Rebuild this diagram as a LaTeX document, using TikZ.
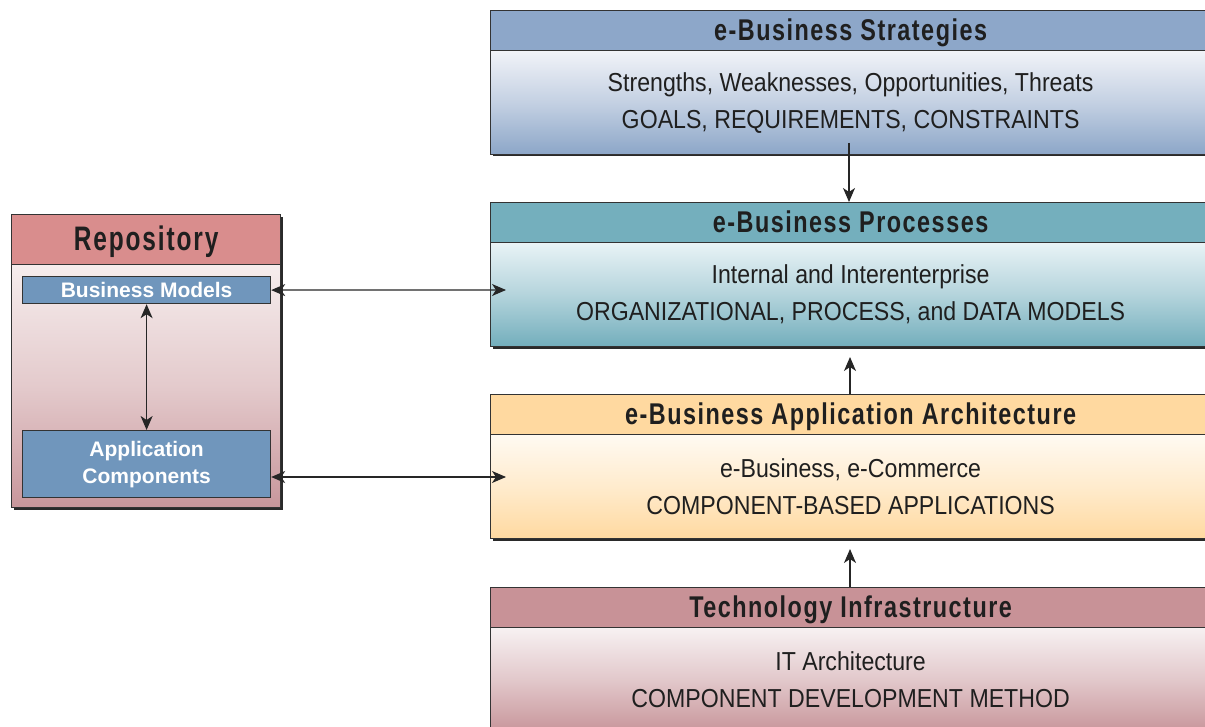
\documentclass[tikz,border=0pt]{standalone}
\usepackage{fontspec}
\setmainfont{Liberation Sans}
\newfontfamily\narrowfont{Liberation Sans}[FakeStretch=0.89]
\newfontfamily\narrowbold{Liberation Sans Bold}[FakeStretch=0.78,LetterSpace=5]
\newfontfamily\repofont{Liberation Sans Bold}[FakeStretch=0.72,LetterSpace=5.5]
\usetikzlibrary{arrows.meta,calc}
\definecolor{edge}{HTML}{333333}
\definecolor{shad}{HTML}{2A2A2A}
\definecolor{stratH}{HTML}{8DA7C9}
\definecolor{stratT}{HTML}{F1F3F8}
\definecolor{stratB}{HTML}{8CA6C8}
\definecolor{procH}{HTML}{74AFBD}
\definecolor{procT}{HTML}{E9F3F6}
\definecolor{procB}{HTML}{73AEBC}
\definecolor{archH}{HTML}{FFD9A0}
\definecolor{archT}{HTML}{FFFAF2}
\definecolor{archB}{HTML}{FFD9A0}
\definecolor{techH}{HTML}{C89297}
\definecolor{techT}{HTML}{F7F1F2}
\definecolor{techB}{HTML}{C8969B}
\definecolor{repoH}{HTML}{D98D8D}
\definecolor{repoT}{HTML}{F6EDED}
\definecolor{repoB}{HTML}{C8969B}
\definecolor{inner}{HTML}{7096BC}
\tikzset{
  hdr/.style={draw=edge, line width=1.2pt, anchor=north west, inner sep=0pt,
    minimum width=720pt, minimum height=40pt},
  hdrtext/.style={anchor=center, inner sep=0pt, text=black!88,
    text height=21.5pt, text depth=6.5pt, font=\narrowbold\fontsize{30}{34}\selectfont},
  body/.style={draw=edge, line width=1.2pt, anchor=north west, inner sep=0pt,
    minimum width=720pt, minimum height=104pt, align=center, text=black!88,
    font=\narrowfont\fontsize{26}{37}\selectfont},
  shadowbox/.style={fill=shad},
  innerbox/.style={draw=edge, line width=1.2pt, fill=inner, text=white, inner sep=0pt,
    align=center, font=\bfseries\fontsize{21}{27}\selectfont},
  conn/.style={line width=1.2pt, draw=black!85},
  tip/.style={-{Stealth[length=14pt,width=12pt,inset=4pt]}},
  tips/.style={{Stealth[length=14pt,width=12pt,inset=4pt]}-{Stealth[length=14pt,width=12pt,inset=4pt]}}
}
\begin{document}
\begin{tikzpicture}[x=1pt,y=-1pt]
\useasboundingbox (0,0) rectangle (1205,727);
\clip (0,0) rectangle (1205,727);
% shadows
\fill[shadowbox] (493,13) rectangle (1213,156);
\fill[shadowbox] (493,205) rectangle (1213,349);
\fill[shadowbox] (493,397) rectangle (1213,541);
\fill[shadowbox] (493,590) rectangle (1213,740);
\fill[shadowbox] (14,217) rectangle (283,510);
% strategies
\node[body, top color=stratT, bottom color=stratB, middle color=stratT!55!stratB] (sb) at (490,50)
  {Strengths, Weaknesses, Opportunities, Threats\\GOALS, REQUIREMENTS, CONSTRAINTS};
\node[hdr, fill=stratH] (sh) at (490,10) {};
\node[hdrtext] (sht) at ([yshift=-2.5pt]sh.center) {e-Business Strategies};
% processes
\node[body, top color=procT, bottom color=procB, middle color=procT!55!procB] (pb) at (490,242)
  {Internal and Interenterprise\\ORGANIZATIONAL, PROCESS, and DATA MODELS};
\node[hdr, fill=procH] (ph) at (490,202) {};
\node[hdrtext] (pht) at ([yshift=-2.5pt]ph.center) {e-Business Processes};
% architecture
\node[body, top color=archT, bottom color=archB, middle color=archT!55!archB] (ab) at (490,434)
  {e-Business, e-Commerce\\COMPONENT-BASED APPLICATIONS};
\node[hdr, fill=archH] (ah) at (490,394) {};
\node[hdrtext] (aht) at ([yshift=-2.5pt]ah.center) {e-Business Application Architecture};
% technology
\node[body, top color=techT, bottom color=techB, middle color=techT!55!techB] (tb) at (490,627)
  {IT Architecture\\COMPONENT DEVELOPMENT METHOD};
\node[hdr, fill=techH] (th) at (490,587) {};
\node[hdrtext] (tht) at ([yshift=-2.5pt]th.center) {Technology Infrastructure};
% repository
\node[draw=edge, line width=1.2pt, anchor=north west, minimum width=269pt, minimum height=243pt,
  top color=repoT, bottom color=repoB, middle color=repoT!60!repoB] (rb) at (11,264) {};
\node[draw=edge, line width=1.2pt, anchor=north west, minimum width=269pt, minimum height=50pt,
  inner sep=0pt, fill=repoH] (rh) at (11,214) {};
\node[anchor=center, inner sep=0pt, text=black!88, text height=24.5pt, text depth=7.5pt,
  font=\repofont\fontsize{34}{38}\selectfont] (rht) at ([yshift=-2.5pt]rh.center) {Repository};
\node[innerbox, anchor=north west, minimum width=248pt, minimum height=27pt] (bm) at (22,276) {Business Models};
\node[innerbox, anchor=north west, minimum width=248pt, minimum height=67pt] (ac) at (22,430) {Application\\Components};
% connectors
\coordinate (sOut) at (849,143);
\coordinate (pIn) at (506,290);
\coordinate (aIn) at (506,477);
\coordinate (pBelow) at (850,357);
\coordinate (aBelow) at (850,549);
\draw[conn, tip] (sOut) -- (sOut |- ph.north);
\draw[conn, tips] (bm.east) -- (pIn);
\draw[conn, tips] (ac.east |- aIn) -- (aIn);
\draw[conn, tips] (bm.south) -- (ac.north);
\draw[conn, tip] (ah.north -| pBelow) -- (pBelow);
\draw[conn, tip] (th.north -| aBelow) -- (aBelow);
\end{tikzpicture}
\end{document}
